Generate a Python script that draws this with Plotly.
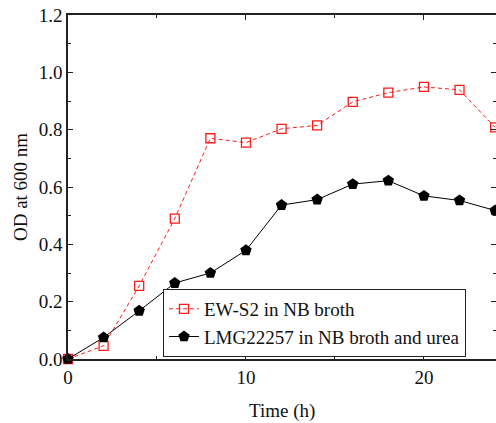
import plotly.graph_objects as go

time_h = [0, 2, 4, 6, 8, 10, 12, 14, 16, 18, 20, 22, 24]
ew_s2 = [0.0, 0.046, 0.255, 0.49, 0.77, 0.755, 0.803, 0.815, 0.897, 0.929, 0.949, 0.939, 0.808]
lmg = [0.0, 0.075, 0.168, 0.265, 0.30, 0.379, 0.537, 0.556, 0.61, 0.622, 0.569, 0.553, 0.518]

FONT = "Liberation Serif, Times New Roman, serif"
FS = 19

fig = go.Figure()
fig.add_trace(go.Scatter(
    x=time_h, y=ew_s2, name="EW-S2 in NB broth", mode="lines+markers",
    line=dict(color="#ff1a1a", width=1, dash="4px,3px"),
    marker=dict(symbol="square-open", size=9, color="#ff1a1a", line=dict(width=1.3)),
    cliponaxis=False,
))
fig.add_trace(go.Scatter(
    x=time_h, y=lmg, name="LMG22257 in NB broth and urea", mode="lines+markers",
    line=dict(color="black", width=1),
    marker=dict(symbol="pentagon", size=12, color="black"),
    cliponaxis=False,
))

axis_common = dict(
    showline=True, linecolor="#222", linewidth=1.5, mirror="ticks",
    ticks="inside", ticklen=5, tickwidth=1, tickcolor="#222",
    showgrid=False, zeroline=False, automargin=False,
    tickfont=dict(family=FONT, size=FS, color="#111"),
)

fig.update_xaxes(
    range=[0, 24.05], tickvals=[0, 10, 20], ticktext=["0", "10", "20"],
    minor=dict(tickvals=[5, 15], ticklen=3, ticks="inside", tickcolor="#222"),
    **axis_common,
)
fig.update_yaxes(
    range=[0, 1.2], tickvals=[0, 0.2, 0.4, 0.6, 0.8, 1.0, 1.2],
    ticktext=["0.0", "0.2", "0.4", "0.6", "0.8", "1.0", "1.2"],
    minor=dict(tickvals=[0.1, 0.3, 0.5, 0.7, 0.9, 1.1], ticklen=3, ticks="inside", tickcolor="#222"),
    **axis_common,
)

fig.update_layout(
    width=496, height=423,
    margin=dict(l=68, r=0, t=15, b=64, autoexpand=False),
    plot_bgcolor="white", paper_bgcolor="white",
    font=dict(family=FONT, size=FS, color="#111"),
    legend=dict(
        x=0.222, y=0.006, xanchor="left", yanchor="bottom",
        bgcolor="white", bordercolor="#222", borderwidth=1,
        font=dict(family=FONT, size=FS, color="#111"),
        tracegroupgap=0,
    ),
    showlegend=True,
    annotations=[
        dict(text="Time (h)", xref="paper", yref="paper", x=0.5, y=-0.151,
             xanchor="center", yanchor="middle", showarrow=False,
             font=dict(family=FONT, size=FS, color="#111")),
        dict(text="OD at 600 nm", xref="paper", yref="paper", x=-0.112, y=0.5,
             xanchor="center", yanchor="middle", showarrow=False, textangle=-90,
             font=dict(family=FONT, size=FS, color="#111")),
    ],
)

fig.write_html(
    "out.html",
    config={"displayModeBar": False},
    post_script="document.body.style.margin='0';document.body.style.overflow='hidden';",
)
